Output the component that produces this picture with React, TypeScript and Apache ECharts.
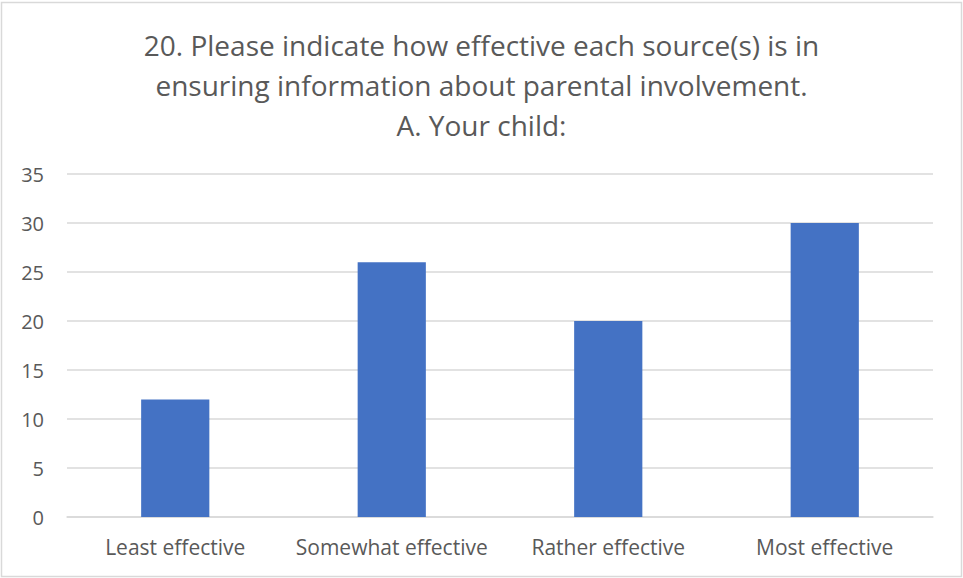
import React, { useEffect, useRef } from "react";
import * as echarts from "echarts";

const titleLines = [
  "20. Please indicate how effective each source(s) is in",
  "ensuring information about parental involvement.",
  "A. Your child:",
];
const categories = ["Least effective", "Somewhat effective", "Rather effective", "Most effective"];
const values = [12, 26, 20, 30];
const yMin = 0;
const yMax = 35;
const yStep = 5;

const FONT = "'Open Sans', 'Noto Sans', sans-serif";

export default function App() {
  const ref = useRef<HTMLDivElement>(null);
  useEffect(() => {
    if (!ref.current) return;
    const chart = echarts.init(ref.current, null, { renderer: "svg" });
    chart.setOption({
      animation: false,
      backgroundColor: "#ffffff",
      title: titleLines.map((t, i) => ({
        text: t,
        left: "center",
        top: 25 + i * 40,
        padding: 0,
        textStyle: {
          fontFamily: FONT,
          fontSize: 28,
          fontWeight: "normal",
          color: "#595959",
          lineHeight: 40,
        },
      })),
      graphic: [
        {
          type: "rect",
          shape: { x: 1.5, y: 2.5, width: 960, height: 574 },
          style: { fill: "none", stroke: "#d9d9d9", lineWidth: 1.5 },
          silent: true,
        },
      ],
      grid: { left: 67, right: 30, top: 174, bottom: 61, containLabel: false },
      xAxis: {
        type: "category",
        data: categories,
        axisLine: { show: true, lineStyle: { color: "#d9d9d9", width: 1.5 } },
        axisTick: { show: false },
        axisLabel: {
          interval: 0,
          hideOverlap: false,
          color: "#595959",
          fontFamily: FONT,
          fontSize: 21,
          margin: 19,
        },
      },
      yAxis: {
        type: "value",
        min: yMin,
        max: yMax,
        interval: yStep,
        axisLine: { show: false },
        axisTick: { show: false },
        splitLine: { lineStyle: { color: "#d9d9d9", width: 1.5 } },
        axisLabel: {
          color: "#595959",
          fontFamily: FONT,
          fontSize: 20,
          margin: 23,
        },
      },
      series: [
        {
          type: "bar",
          data: values,
          barWidth: "31.5%",
          itemStyle: { color: "#4472C4" },
        },
      ],
    });
    return () => chart.dispose();
  }, []);
  return (
    <div
      ref={ref}
      style={{ position: "fixed", left: 0, top: 0, width: 963, height: 578 }}
    />
  );
}
